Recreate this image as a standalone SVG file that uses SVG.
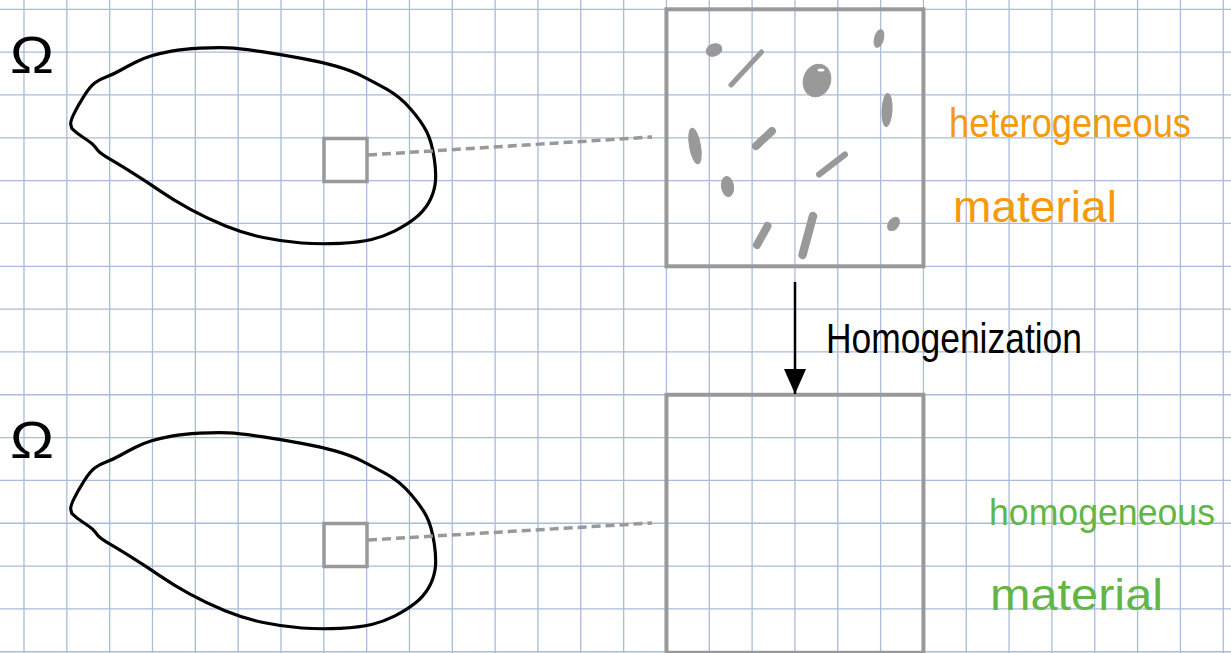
<svg xmlns="http://www.w3.org/2000/svg" xmlns:xlink="http://www.w3.org/1999/xlink" width="1231" height="653" viewBox="0 0 1231 653">
<style>
.grid{stroke:#a9bcd9;stroke-width:1.3;fill:none}
.blob{fill:none;stroke:#000;stroke-width:3.2;stroke-linecap:round;stroke-linejoin:round}
.omega{font-family:"Liberation Sans",Arial,sans-serif;font-size:52px;fill:#000}
.gbox{fill:none;stroke:#999;stroke-width:3.5}
.bigbox{fill:none;stroke:#999;stroke-width:4}
.dash{stroke:#999;stroke-width:3.5;stroke-dasharray:9 5;fill:none}
.part{fill:#999;stroke:#999;stroke-linecap:round}
.hand{font-family:"Liberation Sans",Arial,sans-serif;font-size:44px}
.small{font-size:40px}
.smaller{font-size:36px}
.orange{fill:#f59a0b}
.green{fill:#62b546}
.label{font-family:"Liberation Sans",Arial,sans-serif;font-size:42px;fill:#000}
</style>
<defs>
<path id="blobShape" d="M71.7,128 L70.85,124.85 Q70,121.7 74.15,113.35 Q78.3,105 84.15,95.85 Q90,86.7 95,82.85 Q100,79 106.65,76.65 Q113.3,74.3 120,70.5 Q126.7,66.7 135,62.5 Q143.3,58.3 151.65,55.8 Q160,53.3 171.65,51.15 Q183.3,49 200,48.15 Q216.7,47.3 228.35,47.8 Q240,48.3 261.65,51.65 Q283.3,55 301.65,58.35 Q320,61.7 335,65.85 Q350,70 361.65,75.85 Q373.3,81.7 386.65,89.2 Q400,96.7 410.85,109.2 Q421.7,121.7 426.7,131.7 Q431.7,141.7 434.2,158.35 Q436.7,175 435,185 Q433.3,195 428.3,203.35 Q423.3,211.7 415,218.35 Q406.7,225 395,230.85 Q383.3,236.7 371.65,239.5 Q360,242.3 340,243.3 Q320,244.3 301.65,243 Q283.3,241.7 263.3,237.5 Q243.3,233.3 225,225.8 Q206.7,218.3 190,209.15 Q173.3,200 160,190.85 Q146.7,181.7 133.35,173.35 Q120,165 110,159.15 Q100,153.3 97.5,150 Q95,146.7 92.5,144.2 Q90,141.7 83.35,137.5 Q76.7,133.3 71.7,128.3"/>
<marker id="arrow" markerUnits="userSpaceOnUse" markerWidth="26" markerHeight="24" refX="25" refY="11" orient="auto">
<path d="M0,0 L25,11 L0,22 Z" fill="#000"/>
</marker>
</defs>
<rect x="0" y="0" width="1231" height="653" fill="#fff"/>
<g id="grid">
<path class="grid" d="M24,0V653 M66.83,0V653 M109.66,0V653 M152.49,0V653 M195.32,0V653 M238.15,0V653 M280.98,0V653 M323.81,0V653 M366.64,0V653 M409.47,0V653 M452.3,0V653 M495.13,0V653 M537.96,0V653 M580.79,0V653 M623.62,0V653 M666.45,0V653 M709.28,0V653 M752.11,0V653 M794.94,0V653 M837.77,0V653 M880.6,0V653 M923.43,0V653 M966.26,0V653 M1009.09,0V653 M1051.92,0V653 M1094.75,0V653 M1137.58,0V653 M1180.41,0V653 M1223.24,0V653"/>
<path class="grid" d="M0,9.3H1231 M0,52.13H1231 M0,94.96H1231 M0,137.79H1231 M0,180.62H1231 M0,223.45H1231 M0,266.28H1231 M0,309.11H1231 M0,351.94H1231 M0,394.77H1231 M0,437.6H1231 M0,480.43H1231 M0,523.26H1231 M0,566.09H1231 M0,608.92H1231 M0,651.75H1231"/>
</g>
<g id="domain-top">
<text class="omega" x="32" y="73" text-anchor="middle" textLength="44" lengthAdjust="spacingAndGlyphs">Ω</text>
<use xlink:href="#blobShape" class="blob"/>
<rect class="gbox" x="324" y="138.5" width="43" height="43"/>
</g>
<g id="domain-bottom">
<text class="omega" x="32" y="458" text-anchor="middle" textLength="44" lengthAdjust="spacingAndGlyphs">Ω</text>
<use xlink:href="#blobShape" class="blob" transform="translate(0,385)"/>
<rect class="gbox" x="324" y="523.5" width="43" height="43"/>
</g>
<g id="cell-heterogeneous">
<rect class="bigbox" x="666.45" y="9.3" width="257" height="257"/>
<g id="particles">
<ellipse class="part" cx="714" cy="50" rx="8" ry="6" transform="rotate(-20 714 50)"/>
<line class="part" x1="731" y1="85" x2="761.5" y2="52" stroke-width="5"/>
<ellipse class="part" cx="817" cy="80.5" rx="13.5" ry="16.5" transform="rotate(18 817 80.5)"/>
<ellipse fill="#fff" cx="821" cy="70" rx="3.5" ry="1.6"/>
<ellipse class="part" cx="879" cy="38.5" rx="4.5" ry="9" transform="rotate(15 879 38.5)"/>
<ellipse class="part" cx="887" cy="110" rx="5" ry="16.5" transform="rotate(3 887 110)"/>
<ellipse class="part" cx="695" cy="146" rx="5.5" ry="18" transform="rotate(-10 695 146)"/>
<line class="part" x1="756" y1="146" x2="772" y2="131" stroke-width="8"/>
<line class="part" x1="819" y1="174.5" x2="845" y2="154.5" stroke-width="6"/>
<ellipse class="part" cx="727.5" cy="186.5" rx="6" ry="10" transform="rotate(-8 727.5 186.5)"/>
<line class="part" x1="757" y1="245" x2="767.5" y2="226" stroke-width="8"/>
<line class="part" x1="802.5" y1="255" x2="813" y2="216" stroke-width="8.5"/>
<ellipse class="part" cx="893.5" cy="224" rx="5" ry="7.5" transform="rotate(35 893.5 224)"/>
</g>
<text class="hand small orange" x="949" y="137" textLength="242" lengthAdjust="spacingAndGlyphs">heterogeneous</text>
<text class="hand orange" x="953" y="222" textLength="164" lengthAdjust="spacingAndGlyphs">material</text>
</g>
<g id="cell-homogeneous">
<rect class="bigbox" x="666.45" y="394.77" width="257" height="258"/>
<text class="hand smaller green" x="989" y="525" textLength="226" lengthAdjust="spacingAndGlyphs">homogeneous</text>
<text class="hand green" x="990" y="610" textLength="173" lengthAdjust="spacingAndGlyphs">material</text>
</g>
<g id="connectors">
<line class="dash" x1="368" y1="155" x2="652" y2="137"/>
<line class="dash" x1="368" y1="540" x2="652" y2="523"/>
<line x1="795" y1="282" x2="795" y2="394" stroke="#000" stroke-width="2.5" marker-end="url(#arrow)"/>
<text class="label" x="826" y="353" textLength="256" lengthAdjust="spacingAndGlyphs">Homogenization</text>
</g>
</svg>
